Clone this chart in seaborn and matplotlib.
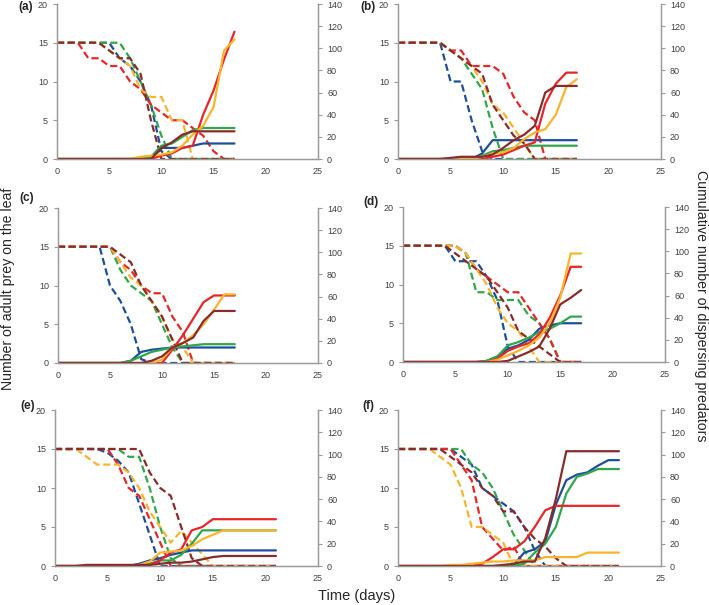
import numpy as np
import pandas as pd
import matplotlib
matplotlib.use("Agg")
import matplotlib.pyplot as plt
import seaborn as sns

sns.set_style("white")
plt.rcParams["font.family"] = ["Liberation Sans", "DejaVu Sans"]

days17 = list(range(18))
days21 = list(range(22))
series_order = ["blue", "green", "red", "yellow", "brown"]
colors = {"blue": "#1d4f9a", "green": "#2ea84a", "red": "#e8262a",
          "yellow": "#f8b42c", "brown": "#8a2b2b"}

# ---- panel (a)
prey_a = {
    "red":    [15, 15, 15, 13, 13, 12, 12, 10, 9, 7, 6, 5, 5, 4, 3, 1, 0, 0],
    "blue":   [15, 15, 15, 15, 15, 15, 13, 12, 10, 7, 1, 0, 0, 0, 0, 0, 0, 0],
    "green":  [15, 15, 15, 15, 15, 15, 15, 13, 10, 7, 3, 0, 0, 0, 0, 0, 0, 0],
    "yellow": [15, 15, 15, 15, 15, 14, 13, 12, 9, 8, 8, 5, 5, 0, 0, 0, 0, 0],
    "brown":  [15, 15, 15, 15, 15, 14, 13, 13, 11, 5, 0, 0, 0, 0, 0, 0, 0, 0],
}
pred_a = {
    "red":    [0, 0, 0, 0, 0, 0, 0, 0, 0, 0, 3, 5, 10, 12, 40, 62, 90, 115],
    "yellow": [0, 0, 0, 0, 0, 0, 0, 0, 2, 3, 4, 6, 12, 22, 30, 47, 98, 108],
    "green":  [0, 0, 0, 0, 0, 0, 0, 0, 0, 2, 12, 14, 20, 26, 28, 28, 28, 28],
    "brown":  [0, 0, 0, 0, 0, 0, 0, 0, 0, 0, 10, 15, 22, 25, 25, 25, 25, 25],
    "blue":   [0, 0, 0, 0, 0, 0, 0, 0, 0, 0, 10, 10, 10, 12, 14, 14, 14, 14],
}
# ---- panel (b)
prey_b = {
    "blue":   [15, 15, 15, 15, 15, 10, 10, 5, 1, 0, 0, 0, 0, 0, 0, 0, 0, 0],
    "yellow": [15, 15, 15, 15, 15, 14, 13, 12, 10, 7, 6, 4, 2, 0, 0, 0, 0, 0],
    "green":  [15, 15, 15, 15, 15, 14, 13, 11, 9, 4, 0, 0, 0, 0, 0, 0, 0, 0],
    "brown":  [15, 15, 15, 15, 15, 14, 13, 12, 11, 7, 5, 3, 2, 0, 0, 0, 0, 0],
    "red":    [15, 15, 15, 15, 15, 14, 14, 12, 12, 12, 11, 8, 6, 5, 0, 0, 0, 0],
}
pred_b = {
    "blue":   [0, 0, 0, 0, 0, 0, 0, 0, 5, 17, 17, 17, 17, 17, 17, 17, 17, 17],
    "green":  [0, 0, 0, 0, 0, 0, 0, 0, 3, 7, 8, 10, 12, 12, 12, 12, 12, 12],
    "brown":  [0, 0, 0, 0, 0, 1, 2, 2, 2, 4, 10, 17, 22, 30, 60, 66, 66, 66],
    "red":    [0, 0, 0, 0, 0, 0, 0, 0, 0, 2, 4, 8, 12, 15, 50, 68, 78, 78],
    "yellow": [0, 0, 0, 0, 0, 0, 0, 0, 2, 5, 6, 10, 18, 24, 27, 40, 65, 72],
}
# ---- panel (c)
prey_c = {
    "blue":   [15, 15, 15, 15, 15, 10, 8, 5, 0.5, 0, 0, 0, 0, 0, 0, 0, 0, 0],
    "green":  [15, 15, 15, 15, 15, 15, 12, 10, 9, 8, 5, 2, 0, 0, 0, 0, 0, 0],
    "yellow": [15, 15, 15, 15, 15, 15, 13, 11, 10, 8, 6, 3, 2, 0, 0, 0, 0, 0],
    "red":    [15, 15, 15, 15, 15, 15, 13, 12, 10, 9, 9, 6, 4, 0, 0, 0, 0, 0],
    "brown":  [15, 15, 15, 15, 15, 15, 14, 13, 10, 8, 6, 3, 0, 0, 0, 0, 0, 0],
}
pred_c = {
    "blue":   [0, 0, 0, 0, 0, 0, 0, 2, 10, 12, 13, 14, 14, 14, 14, 14, 14, 14],
    "green":  [0, 0, 0, 0, 0, 0, 0, 2, 6, 10, 12, 14, 15, 16, 17, 17, 17, 17],
    "brown":  [0, 0, 0, 0, 0, 0, 0, 0, 0, 2, 6, 14, 18, 23, 38, 47, 47, 47],
    "red":    [0, 0, 0, 0, 0, 0, 0, 0, 0, 0, 0, 12, 25, 40, 55, 61, 61, 61],
    "yellow": [0, 0, 0, 0, 0, 0, 0, 0, 0, 0, 3, 14, 18, 25, 35, 48, 62, 62],
}
# ---- panel (d)
prey_d = {
    "blue":   [15, 15, 15, 15, 15, 13, 13, 13, 11, 8, 2, 0, 0, 0, 0, 0, 0, 0],
    "brown":  [15, 15, 15, 15, 15, 14, 13, 12, 11, 9, 7, 4, 3, 2, 1, 0, 0, 0],
    "green":  [15, 15, 15, 15, 15, 15, 14, 9, 9, 8, 8, 8, 6, 5, 3, 0, 0, 0],
    "yellow": [15, 15, 15, 15, 15, 15, 14, 12, 10, 7, 5, 4, 2, 0, 0, 0, 0, 0],
    "red":    [15, 15, 15, 15, 15, 15, 14, 12, 11, 10, 9, 9, 7, 5, 3, 0, 0, 0],
}
pred_d = {
    "blue":   [0, 0, 0, 0, 0, 0, 0, 0, 1, 5, 12, 15, 20, 30, 33, 35, 35, 35],
    "green":  [0, 0, 0, 0, 0, 0, 0, 0, 1, 5, 15, 18, 22, 27, 30, 35, 41, 41],
    "red":    [0, 0, 0, 0, 0, 0, 0, 0, 0, 3, 10, 14, 17, 25, 40, 60, 86, 86],
    "yellow": [0, 0, 0, 0, 0, 0, 0, 0, 0, 2, 6, 10, 15, 22, 35, 58, 98, 98],
    "brown":  [0, 0, 0, 0, 0, 0, 0, 0, 0, 0, 1, 5, 9, 14, 30, 52, 58, 65],
}
# ---- panel (e)
prey_e = {
    "yellow": [15, 15, 15, 14, 13, 13, 13, 12, 10, 7, 5, 3, 4.5, 3, 1.5, 0, 0, 0, 0, 0, 0, 0],
    "red":    [15, 15, 15, 15, 15, 15, 13, 10, 9, 6, 3, 0, 0, 0, 0, 0, 0, 0, 0, 0, 0, 0],
    "blue":   [15, 15, 15, 15, 15, 14.5, 13.5, 12, 8, 4, 0, 0, 0, 0, 0, 0, 0, 0, 0, 0, 0, 0],
    "green":  [15, 15, 15, 15, 15, 15, 15, 14, 14, 10, 5, 1, 0, 0, 0, 0, 0, 0, 0, 0, 0, 0],
    "brown":  [15, 15, 15, 15, 15, 15, 15, 15, 15, 12, 10, 9, 5, 1, 0, 0, 0, 0, 0, 0, 0, 0],
}
pred_e = {
    "red":    [0, 0, 0, 0, 0, 0, 0, 0, 0, 1, 5, 12, 15, 32, 35, 42, 42, 42, 42, 42, 42, 42],
    "green":  [0, 0, 0, 0, 0, 0, 0, 0, 0, 2, 5, 5, 10, 20, 32, 32, 32, 32, 32, 32, 32, 32],
    "yellow": [0, 0, 0, 0, 0, 0, 0, 0, 1, 4, 12, 13, 14, 18, 24, 28, 32, 32, 32, 32, 32, 32],
    "blue":   [0, 0, 0, 0, 0, 0, 0, 0, 2, 5, 7, 10, 12, 14, 14, 14, 14, 14, 14, 14, 14, 14],
    "brown":  [0, 0, 0, 1, 1, 1, 1, 1, 1, 1, 2, 3, 3, 4, 6, 8, 9, 9, 9, 9, 9, 9],
}
# ---- panel (f)
prey_f = {
    "yellow": [15, 15, 15, 15, 14, 13, 10, 5, 5, 4, 3, 0, 0, 0, 0, 0, 0, 0, 0, 0, 0, 0],
    "red":    [15, 15, 15, 15, 15, 15, 13, 11, 5, 3.5, 2, 2.5, 0, 0, 0, 0, 0, 0, 0, 0, 0, 0],
    "brown":  [15, 15, 15, 15, 15, 14, 13, 12, 10, 9, 7, 7, 5, 3.5, 2.5, 1, 0, 0, 0, 0, 0, 0],
    "blue":   [15, 15, 15, 15, 15, 15, 14, 13, 10, 9, 8, 7, 5, 2, 0, 0, 0, 0, 0, 0, 0, 0],
    "green":  [15, 15, 15, 15, 15, 15, 15, 13, 12, 10, 7, 4, 2, 0, 0, 0, 0, 0, 0, 0, 0, 0],
}
pred_f = {
    "brown":  [0, 0, 0, 0, 0, 0, 0, 0, 0, 0, 1, 2, 4, 4, 25, 60, 103, 103, 103, 103, 103, 103],
    "blue":   [0, 0, 0, 0, 0, 0, 0, 0, 0, 0, 0, 1, 12, 15, 22, 55, 77, 82, 84, 90, 95, 95],
    "green":  [0, 0, 0, 0, 0, 0, 0, 0, 0, 0, 0, 0, 2, 12, 20, 35, 65, 80, 83, 87, 87, 87],
    "red":    [0, 0, 0, 0, 0, 0, 0, 0, 2, 8, 15, 15, 22, 35, 50, 54, 54, 54, 54, 54, 54, 54],
    "yellow": [0, 0, 0, 0, 0, 1, 1, 2, 3, 4, 4, 5, 5, 5, 8, 8, 8, 8, 12, 12, 12, 12],
}

panel_labels = ["(a)", "(b)", "(c)", "(d)", "(e)", "(f)"]
panels = [
    (days17, prey_a, pred_a), (days17, prey_b, pred_b),
    (days17, prey_c, pred_c), (days17, prey_d, pred_d),
    (days21, prey_e, pred_e), (days21, prey_f, pred_f),
]
# pixel boxes: left, right, top, bottom
boxes = [(57, 318, 4, 159), (398, 661, 4, 159),
         (58, 318, 208, 363), (403, 665, 207, 362),
         (55, 318, 410, 566), (398, 661, 410, 566)]
label_pos = [(26, 7), (368, 7), (27, 198), (371, 202), (28, 406), (368, 406)]

W, H = 709, 605
fig = plt.figure(figsize=(W / 100, H / 100), dpi=100)

spine_c = "#9a9a9a"
tick_c = "#404040"

for (days, prey, pred), (l, r, t, b), lab, (lx, ly) in zip(panels, boxes, panel_labels, label_pos):
    ax = fig.add_axes([l / W, 1 - b / H, (r - l) / W, (b - t) / H])
    ax2 = ax.twinx()
    for name in series_order:
        sns.lineplot(x=days, y=prey[name], ax=ax, color=colors[name], lw=1.6,
                     linestyle=(0, (3.2, 1.6)), legend=False)
    for name in series_order:
        sns.lineplot(x=days, y=pred[name], ax=ax2, color=colors[name], lw=1.6,
                     legend=False)
    ax.set_xlim(0, 25)
    ax.set_ylim(0, 20)
    ax2.set_ylim(0, 140)
    ax.set_xticks([0, 5, 10, 15, 20, 25])
    ax.set_yticks([0, 5, 10, 15, 20])
    ax2.set_yticks(range(0, 141, 20))
    for a in (ax, ax2):
        a.set_xlabel("")
        a.set_ylabel("")
        a.spines["top"].set_visible(False)
        for s in ("left", "right", "bottom"):
            a.spines[s].set_color(spine_c)
            a.spines[s].set_linewidth(0.9)
        a.tick_params(labelsize=6.5, colors=tick_c, length=3, width=0.8)
        a.tick_params(axis="both", color=spine_c)
    ax.tick_params(axis="x", length=2)
    fig.text(lx / W, 1 - ly / H, lab, fontsize=8.5, fontweight="bold",
             ha="center", va="center")

fig.text(8 / W, 1 - 289 / H, "Number of adult prey on the leaf", rotation=90,
         ha="center", va="center", fontsize=10.2)
fig.text(701 / W, 1 - 306 / H, "Cumulative number of dispersing predators",
         rotation=270, ha="center", va="center", fontsize=10.2)
fig.text(357 / W, 1 - 596 / H, "Time (days)", ha="center", va="center", fontsize=10.5)

fig.savefig("out.png", dpi=100)
